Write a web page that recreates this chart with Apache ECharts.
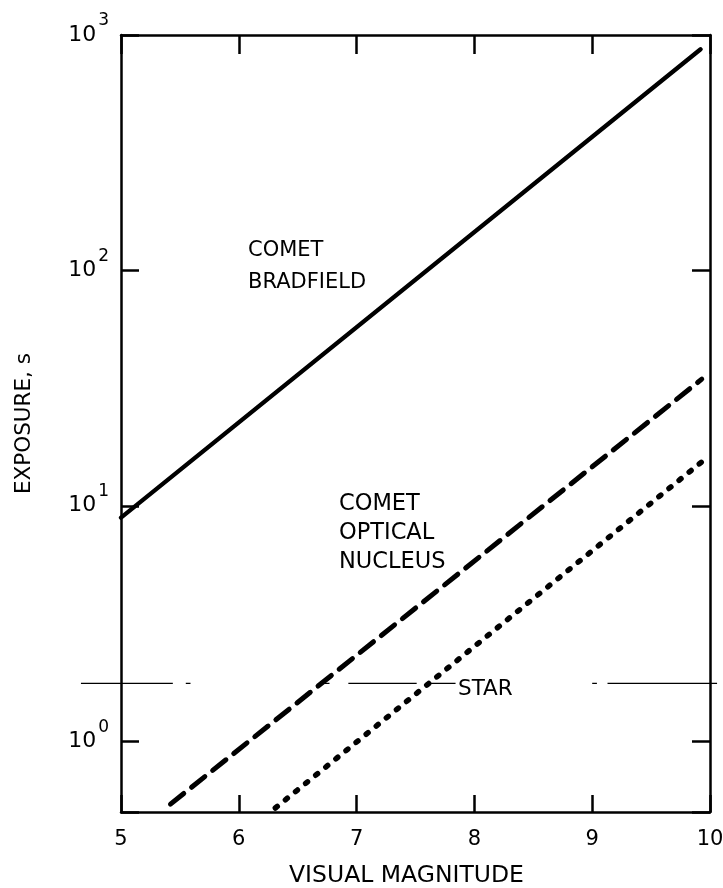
<!DOCTYPE html>
<html>
<head>
<meta charset="utf-8">
<script src="https://cdn.jsdelivr.net/npm/echarts@6/dist/echarts.min.js"></script>
<style>
html,body{margin:0;padding:0;background:#fff;}
#chart{width:723px;height:888px;}
</style>
</head>
<body>
<div id="chart"></div>
<script>
// ---- data ----
var xTicks = [5, 6, 7, 8, 9, 10];
var yTickExponents = [0, 1, 2, 3];
var yRange = [0.5, 1000];
var bradfield = [[5.0, 8.9], [9.92, 870]];
var opticalNucleus = [[5.42, 0.54], [9.93, 34.5]];
var starDotted = [[6.31, 0.52], [9.96, 15.8]];
var starLevel = 1.76;
var starSegments = [[4.66, 5.44], [5.55, 5.59], [6.68, 6.77], [6.93, 7.51], [7.6, 7.84], [9.0, 9.04], [9.13, 10.06]];
var labelBradfield = 'COMET\nBRADFIELD';
var labelNucleus = 'COMET\nOPTICAL\nNUCLEUS';
var labelStar = 'STAR';
var xName = 'VISUAL MAGNITUDE';
var yName = 'EXPOSURE, s';

var FONT = '"DejaVu Sans", sans-serif';
var starData = [];
starSegments.forEach(function (s, i) {
  if (i > 0) starData.push([null, null]);
  starData.push([s[0], starLevel]);
  starData.push([s[1], starLevel]);
});
var starXMin = starSegments[0][0];
var starXMax = starSegments[starSegments.length - 1][1];

function isPow10(v) {
  var e = Math.round(Math.log10(v));
  return Math.abs(Math.log10(v) - e) < 1e-6 && yTickExponents.indexOf(e) >= 0 ? e : null;
}

var chart = echarts.init(document.getElementById('chart'), null, {renderer: 'canvas'});
var axisLine = {show: true, lineStyle: {color: '#000', width: 2.5}};
var tickStyle = {color: '#000', width: 2.5};
// main plot frame: left 121, right 710 -> 117.8 px per magnitude
var gridLeft = 121, gridRight = 13;
var pxPerUnit = (723 - gridLeft - gridRight) / (xTicks[xTicks.length - 1] - xTicks[0]);
var option = {
  backgroundColor: '#fff',
  animation: false,
  grid: [
    {left: gridLeft, right: gridRight, top: 35, bottom: 76, containLabel: false, outerBoundsMode: 'none'},
    // overlay grid on the same scale, extended so the STAR reference line can run past the frame
    {left: gridLeft - (xTicks[0] - starXMin) * pxPerUnit,
     right: gridRight - (starXMax - xTicks[xTicks.length - 1]) * pxPerUnit,
     top: 35, bottom: 76, containLabel: false, outerBoundsMode: 'none'}
  ],
  xAxis: [{
    gridIndex: 0, type: 'value', min: xTicks[0], max: xTicks[xTicks.length - 1], interval: 1,
    position: 'bottom',
    name: xName, nameLocation: 'middle', nameGap: 52,
    nameTextStyle: {fontFamily: FONT, fontSize: 23.5, color: '#000', padding: [0, 18, 0, 0]},
    axisLine: axisLine,
    axisTick: {show: true, inside: true, length: 17, lineStyle: tickStyle},
    axisLabel: {fontFamily: FONT, fontSize: 21, color: '#000', margin: 17,
      formatter: function (v) { return xTicks.indexOf(v) >= 0 ? String(v) : ''; }},
    splitLine: {show: false}
  }, {
    gridIndex: 0, type: 'value', min: xTicks[0], max: xTicks[xTicks.length - 1], interval: 1,
    position: 'top',
    axisLine: axisLine,
    axisTick: {show: true, inside: true, length: 19, lineStyle: tickStyle},
    axisLabel: {show: false},
    splitLine: {show: false}
  }, {
    gridIndex: 1, type: 'value', min: starXMin, max: starXMax, show: false
  }],
  yAxis: [{
    gridIndex: 0, type: 'log', logBase: 10, min: yRange[0], max: yRange[1],
    position: 'left',
    name: yName, nameLocation: 'middle', nameGap: 86, nameRotate: 90,
    nameTextStyle: {fontFamily: FONT, fontSize: 21.5, color: '#000'},
    axisLine: axisLine,
    axisTick: {show: true, inside: true, length: 18, lineStyle: tickStyle},
    axisLabel: {
      margin: 12, color: '#000', fontFamily: FONT,
      formatter: function (v) {
        var e = isPow10(v);
        return e === null ? '' : '{b|10}{s|' + e + '}';
      },
      rich: {
        b: {fontFamily: FONT, fontSize: 22, color: '#000'},
        s: {fontFamily: FONT, fontSize: 17, color: '#000', padding: [0, 0, 28, 2]}
      }
    },
    splitLine: {show: false}
  }, {
    gridIndex: 0, type: 'log', logBase: 10, min: yRange[0], max: yRange[1],
    position: 'right',
    axisLine: axisLine,
    axisTick: {show: true, inside: true, length: 18, lineStyle: tickStyle},
    axisLabel: {show: false},
    splitLine: {show: false}
  }, {
    gridIndex: 1, type: 'log', logBase: 10, min: yRange[0], max: yRange[1], show: false
  }],
  series: [{
    type: 'line', name: 'Comet Bradfield', data: bradfield, showSymbol: false, symbol: 'none',
    xAxisIndex: 0, yAxisIndex: 0,
    lineStyle: {color: '#000', width: 4.3, type: 'solid', cap: 'round'}
  }, {
    type: 'line', name: 'Comet optical nucleus', data: opticalNucleus, showSymbol: false, symbol: 'none',
    xAxisIndex: 0, yAxisIndex: 0,
    lineStyle: {color: '#000', width: 5, type: [17, 10], cap: 'round'}
  }, {
    type: 'line', name: 'Star (dotted)', data: starDotted, showSymbol: false, symbol: 'none',
    xAxisIndex: 0, yAxisIndex: 0,
    lineStyle: {color: '#000', width: 5.5, type: [2.5, 10.5], cap: 'round'}
  }, {
    type: 'line', name: 'Star level', data: starData, showSymbol: false, symbol: 'none',
    xAxisIndex: 2, yAxisIndex: 2, connectNulls: false,
    lineStyle: {color: '#000', width: 1.4, type: 'solid'}
  }],
  graphic: [{
    type: 'text', left: 248, top: 235,
    style: {text: labelBradfield, font: '21px ' + FONT, fill: '#000', lineHeight: 32}
  }, {
    type: 'text', left: 339, top: 490,
    style: {text: labelNucleus, font: '22.5px ' + FONT, fill: '#000', lineHeight: 28.7}
  }, {
    type: 'text', left: 458, top: 677,
    style: {text: labelStar, font: '21.5px ' + FONT, fill: '#000', lineHeight: 24}
  }]
};
chart.setOption(option);
</script>
</body>
</html>
